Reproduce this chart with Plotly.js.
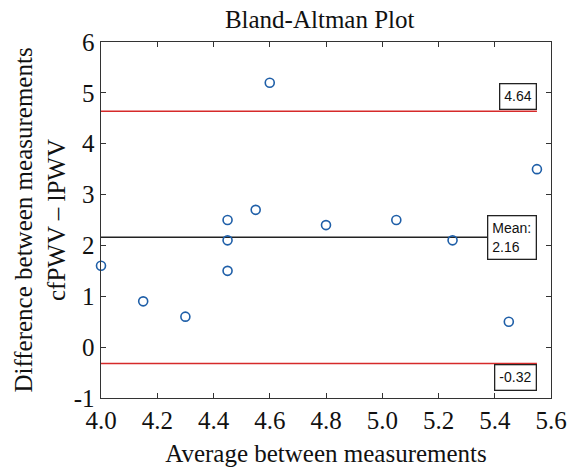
<!DOCTYPE html>
<html>
<head>
<meta charset="utf-8">
<script src="https://cdn.plot.ly/plotly-3.0.1.min.js"></script>
<style>html,body{margin:0;padding:0;background:#fff;}#chart{width:576px;height:469px;}</style>
</head>
<body>
<div id="chart"></div>
<script>
const averages = [4.0, 4.15, 4.3, 4.45, 4.45, 4.45, 4.55, 4.6, 4.8, 5.05, 5.25, 5.45, 5.55];
const differences = [1.6, 0.9, 0.6, 2.5, 2.1, 1.5, 2.7, 5.2, 2.4, 2.5, 2.1, 0.5, 3.5];
const meanDiff = 2.16;
const upperLimit = 4.64;
const lowerLimit = -0.32;
const xTicks = [4.0, 4.2, 4.4, 4.6, 4.8, 5.0, 5.2, 5.4, 5.6];
const yTicks = [-1, 0, 1, 2, 3, 4, 5, 6];

const xMin = Math.min(...averages), xMax = Math.max(...averages);
const serif = 'Liberation Serif, Times New Roman, serif';
const sans = 'Liberation Sans, Arial, sans-serif';

const traces = [
  {x: [xMin, xMax], y: [upperLimit, upperLimit], mode: 'lines', line: {color: '#d62a2a', width: 1.5}, hoverinfo: 'skip'},
  {x: [xMin, xMax], y: [lowerLimit, lowerLimit], mode: 'lines', line: {color: '#d62a2a', width: 1.5}, hoverinfo: 'skip'},
  {x: [xMin, xMax], y: [meanDiff, meanDiff], mode: 'lines', line: {color: '#222', width: 1.5}, hoverinfo: 'skip'},
  {x: averages, y: differences, mode: 'markers', type: 'scatter', cliponaxis: false,
   marker: {symbol: 'circle-open', size: 9, color: '#1f5fa8', line: {width: 1.6, color: '#1f5fa8'}}}
];

const annBase = {xref: 'x', yref: 'y', showarrow: false, bordercolor: '#222', borderwidth: 1.3,
  bgcolor: '#fff', borderpad: 4, font: {family: sans, size: 14, color: '#111'}, xanchor: 'right'};

const layout = {
  width: 576, height: 469,
  margin: {l: 101, r: 25, t: 42, b: 71},
  paper_bgcolor: '#fff', plot_bgcolor: '#fff',
  showlegend: false,
  title: {text: 'Bland-Altman Plot', font: {family: serif, size: 25, color: '#111'}, x: 0.555, xanchor: 'center', y: 0.958, yanchor: 'middle'},
  xaxis: {
    range: [4.0, 5.6], tickvals: xTicks, ticktext: xTicks.map(v => v.toFixed(1)),
    ticks: 'inside', ticklen: 5, tickcolor: '#333', showgrid: false, zeroline: false,
    showline: true, linecolor: '#333', linewidth: 1.4, mirror: 'ticks',
    tickfont: {family: serif, size: 25, color: '#111'},
    title: {text: 'Average between measurements', font: {family: serif, size: 25, color: '#111'}, standoff: 11}
  },
  yaxis: {
    range: [-1, 6], tickvals: yTicks, ticktext: yTicks.map(String),
    ticks: 'inside', ticklen: 5, tickcolor: '#333', showgrid: false, zeroline: false,
    showline: true, linecolor: '#333', linewidth: 1.4, mirror: 'ticks',
    tickfont: {family: serif, size: 25, color: '#111'},
    title: {text: 'Difference between measurements<br>cfPWV – lPWV', font: {family: serif, size: 25, color: '#111'}, standoff: 1}
  },
  annotations: [
    Object.assign({}, annBase, {x: xMax, y: upperLimit, text: upperLimit.toFixed(2), yanchor: 'bottom', yshift: 1}),
    Object.assign({}, annBase, {x: xMax, y: meanDiff, text: 'Mean:<br>' + meanDiff.toFixed(2), yanchor: 'middle', align: 'left'}),
    Object.assign({}, annBase, {x: xMax, y: lowerLimit, text: lowerLimit.toFixed(2), yanchor: 'top', yshift: -1})
  ]
};

Plotly.newPlot('chart', traces, layout, {displayModeBar: false, staticPlot: true});
</script>
</body>
</html>
